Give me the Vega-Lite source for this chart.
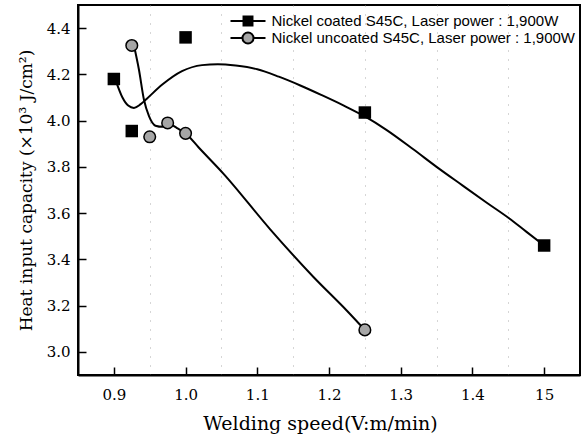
{
  "$schema": "https://vega.github.io/schema/vega-lite/v6.json",
  "width": 502,
  "height": 370,
  "autosize": "none",
  "padding": {"left": 78, "top": 5, "right": 7, "bottom": 66},
  "background": "white",
  "config": {
    "view": {"stroke": "black", "strokeWidth": 2},
    "axis": {
      "domainColor": "black",
      "domainWidth": 2,
      "tickColor": "black",
      "tickWidth": 1.5,
      "tickSize": -8,
      "labelFont": "DejaVu Serif",
      "labelFontSize": 15,
      "labelColor": "black",
      "titleFont": "DejaVu Serif",
      "titleFontSize": 17,
      "titleFontWeight": "normal",
      "titleColor": "black",
      "grid": true,
      "gridColor": "#999999",
      "gridDash": [1, 8],
      "gridWidth": 1
    }
  },
  "datasets": {
    "markers": [
      {"series": "Nickel coated S45C, Laser power : 1,900W", "v": 0.9, "h": 4.18},
      {"series": "Nickel coated S45C, Laser power : 1,900W", "v": 0.925, "h": 3.955},
      {"series": "Nickel coated S45C, Laser power : 1,900W", "v": 1.0, "h": 4.36},
      {"series": "Nickel coated S45C, Laser power : 1,900W", "v": 1.25, "h": 4.035},
      {"series": "Nickel coated S45C, Laser power : 1,900W", "v": 1.5, "h": 3.46},
      {"series": "Nickel uncoated S45C, Laser power : 1,900W", "v": 0.925, "h": 4.325},
      {"series": "Nickel uncoated S45C, Laser power : 1,900W", "v": 0.95, "h": 3.93},
      {"series": "Nickel uncoated S45C, Laser power : 1,900W", "v": 0.975, "h": 3.99},
      {"series": "Nickel uncoated S45C, Laser power : 1,900W", "v": 1.0, "h": 3.945},
      {"series": "Nickel uncoated S45C, Laser power : 1,900W", "v": 1.25, "h": 3.095}
    ],
    "curves": [
      {"series": "coated", "v": 0.903, "h": 4.17},
      {"series": "coated", "v": 0.912, "h": 4.1},
      {"series": "coated", "v": 0.92, "h": 4.065},
      {"series": "coated", "v": 0.928, "h": 4.055},
      {"series": "coated", "v": 0.937, "h": 4.07},
      {"series": "coated", "v": 0.946, "h": 4.095},
      {"series": "coated", "v": 0.968, "h": 4.157},
      {"series": "coated", "v": 0.995, "h": 4.214},
      {"series": "coated", "v": 1.023, "h": 4.24},
      {"series": "coated", "v": 1.045, "h": 4.244},
      {"series": "coated", "v": 1.07, "h": 4.238},
      {"series": "coated", "v": 1.1, "h": 4.222},
      {"series": "coated", "v": 1.13, "h": 4.19},
      {"series": "coated", "v": 1.16, "h": 4.152},
      {"series": "coated", "v": 1.19, "h": 4.11},
      {"series": "coated", "v": 1.22, "h": 4.066},
      {"series": "coated", "v": 1.25, "h": 4.018},
      {"series": "coated", "v": 1.28, "h": 3.96},
      {"series": "coated", "v": 1.317, "h": 3.877},
      {"series": "coated", "v": 1.35, "h": 3.8},
      {"series": "coated", "v": 1.386, "h": 3.72},
      {"series": "coated", "v": 1.42, "h": 3.645},
      {"series": "coated", "v": 1.451, "h": 3.578},
      {"series": "coated", "v": 1.475, "h": 3.52},
      {"series": "coated", "v": 1.5, "h": 3.46},
      {"series": "uncoated", "v": 0.928, "h": 4.325},
      {"series": "uncoated", "v": 0.935, "h": 4.22},
      {"series": "uncoated", "v": 0.942, "h": 4.09},
      {"series": "uncoated", "v": 0.949, "h": 4.019},
      {"series": "uncoated", "v": 0.958, "h": 3.978},
      {"series": "uncoated", "v": 0.968, "h": 3.973},
      {"series": "uncoated", "v": 0.977, "h": 3.985},
      {"series": "uncoated", "v": 0.988, "h": 3.968},
      {"series": "uncoated", "v": 1.002, "h": 3.939},
      {"series": "uncoated", "v": 1.018, "h": 3.885},
      {"series": "uncoated", "v": 1.053, "h": 3.77},
      {"series": "uncoated", "v": 1.118, "h": 3.53},
      {"series": "uncoated", "v": 1.178, "h": 3.325},
      {"series": "uncoated", "v": 1.225, "h": 3.178},
      {"series": "uncoated", "v": 1.25, "h": 3.095}
    ]
  },
  "layer": [
    {
      "data": {"name": "curves"},
      "mark": {"type": "line", "interpolate": "monotone", "color": "black", "strokeWidth": 2},
      "encoding": {
        "x": {
          "field": "v", "type": "quantitative",
          "scale": {"domain": [0.85, 1.55], "nice": false, "zero": false},
          "axis": {
            "title": "Welding speed(V:m/min)",
            "titleFontSize": 19,
            "titleX": 242,
            "titleAlign": "center",
            "values": [0.9, 0.95, 1.0, 1.05, 1.1, 1.15, 1.2, 1.25, 1.3, 1.35, 1.4, 1.45, 1.5],
            "labelExpr": "round(datum.value*100)%10==5 ? '' : (round(datum.value*100)==150 ? '15' : format(datum.value,'.1f'))",
            "tickOpacity": {"condition": {"test": "round(datum.value*100)%10==5", "value": 0}, "value": 1},
            "gridOpacity": {"condition": {"test": "round(datum.value*100)%10==5", "value": 0.8}, "value": 0},
            "labelPadding": 20,
            "titlePadding": 12
          }
        },
        "y": {
          "field": "h", "type": "quantitative",
          "scale": {"domain": [2.9, 4.5], "nice": false, "zero": false},
          "axis": {
            "title": "Heat input capacity (×10³ J/cm²)",
            "values": [3.0, 3.1, 3.2, 3.3, 3.4, 3.5, 3.6, 3.7, 3.8, 3.9, 4.0, 4.1, 4.2, 4.3, 4.4],
            "labelExpr": "round(datum.value*10)%2==1 ? '' : format(datum.value,'.1f')",
            "tickOpacity": {"condition": {"test": "round(datum.value*10)%2==1", "value": 0}, "value": 1},
            "gridOpacity": {"condition": {"test": "round(datum.value*10)%2==1", "value": 0.8}, "value": 0},
            "labelPadding": 16,
            "titlePadding": 11
          }
        },
        "detail": {"field": "series"}
      }
    },
    {
      "data": {"name": "markers"},
      "transform": [{"filter": "datum.series == 'Nickel coated S45C, Laser power : 1,900W'"}],
      "mark": {"type": "point", "shape": "square", "filled": true, "color": "black", "size": 156, "opacity": 1},
      "encoding": {
        "x": {"field": "v", "type": "quantitative"},
        "y": {"field": "h", "type": "quantitative"}
      }
    },
    {
      "data": {"name": "markers"},
      "transform": [{"filter": "datum.series == 'Nickel uncoated S45C, Laser power : 1,900W'"}],
      "mark": {"type": "point", "shape": "circle", "filled": true, "fill": "#a6a6a6", "stroke": "black", "strokeWidth": 1.5, "size": 135, "opacity": 1},
      "encoding": {
        "x": {"field": "v", "type": "quantitative"},
        "y": {"field": "h", "type": "quantitative"}
      }
    },
    {
      "data": {"name": "markers"},
      "mark": {"type": "point", "filled": true, "opacity": 0},
      "encoding": {
        "x": {"field": "v", "type": "quantitative"},
        "y": {"field": "h", "type": "quantitative"},
        "shape": {
          "field": "series", "type": "nominal",
          "scale": {
            "domain": ["Nickel coated S45C, Laser power : 1,900W", "Nickel uncoated S45C, Laser power : 1,900W"],
            "range": ["M-2.5,0H2.5M-0.64,-0.64H0.64V0.64H-0.64Z", "M-2.5,0H-0.79M0.79,0H2.5M-0.79,0A0.79,0.79 0 1 0 0.79,0A0.79,0.79 0 1 0 -0.79,0Z"]
          },
          "legend": {
            "title": null, "orient": "none", "legendX": 162, "legendY": 8,
            "symbolSize": 196, "labelFont": "Liberation Sans", "labelFontSize": 15, "labelColor": "black",
            "labelOffset": 15.5, "labelLimit": 0, "rowPadding": -2, "padding": 0,
            "encode": {"symbols": {"update": {"stroke": {"value": "black"}, "strokeWidth": {"value": 2}, "opacity": {"value": 1}, "fillOpacity": {"value": 1}, "strokeOpacity": {"value": 1}}}}
          }
        },
        "fill": {
          "field": "series", "type": "nominal",
          "scale": {
            "domain": ["Nickel coated S45C, Laser power : 1,900W", "Nickel uncoated S45C, Laser power : 1,900W"],
            "range": ["black", "#a6a6a6"]
          },
          "legend": {
            "title": null, "orient": "none", "legendX": 162, "legendY": 8,
            "symbolSize": 196, "labelFont": "Liberation Sans", "labelFontSize": 15, "labelColor": "black",
            "labelOffset": 15.5, "labelLimit": 0, "rowPadding": -2, "padding": 0,
            "encode": {"symbols": {"update": {"stroke": {"value": "black"}, "strokeWidth": {"value": 2}, "opacity": {"value": 1}, "fillOpacity": {"value": 1}, "strokeOpacity": {"value": 1}}}}
          }
        }
      }
    }
  ]
}
